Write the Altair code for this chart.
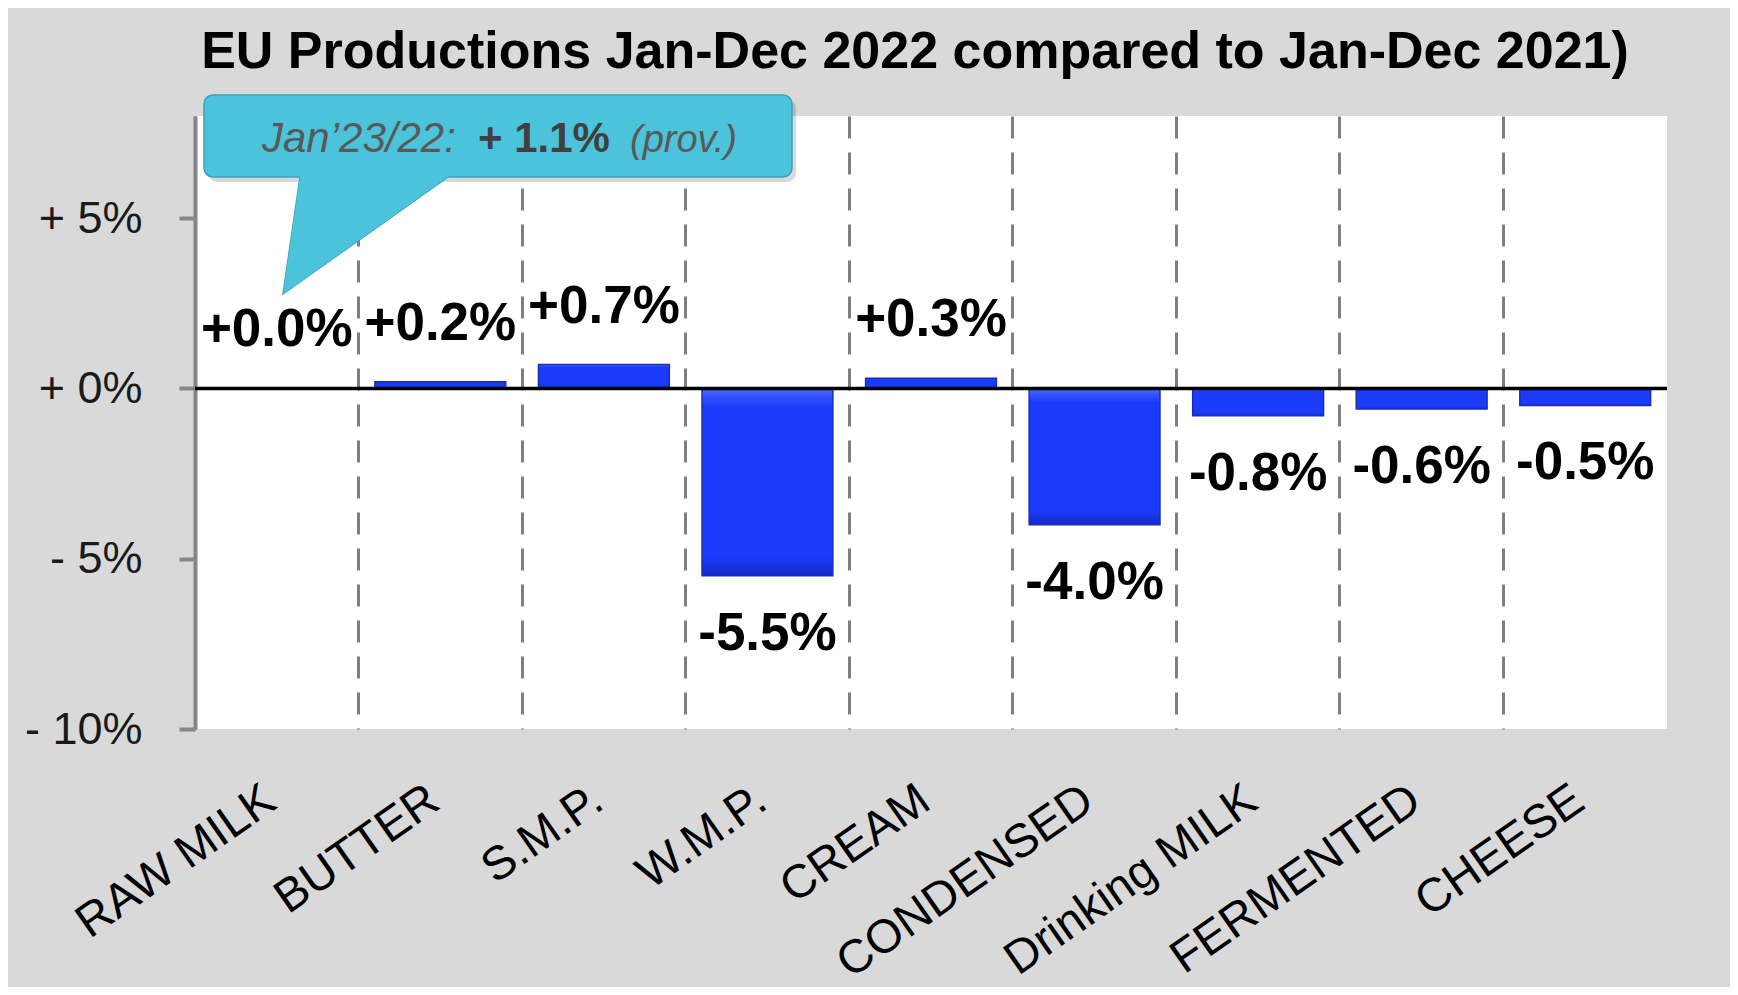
import altair as alt
import pandas as pd

# ---- data ----
categories = ["RAW MILK", "BUTTER", "S.M.P.", "W.M.P.", "CREAM",
              "CONDENSED", "Drinking MILK", "FERMENTED", "CHEESE"]
values = [0.0, 0.2, 0.7, -5.5, 0.3, -4.0, -0.8, -0.6, -0.5]
labels = [f"{v:+.1f}%" for v in values]
y_ticks = [-10, -5, 0, 5]
title_text = ["EU Productions Jan-Dec 2022 compared to Jan-Dec 2021)"]
callout_a = ["Jan\u201923/22:"]
callout_b = ["+ 1.1%"]
callout_c = ["(prov.)"]

FONT = "Liberation Sans"
W, H = 1472, 613

df = pd.DataFrame({"cat": categories, "value": values, "label": labels})
one = pd.DataFrame({"k": [0]})

x_enc = alt.X(
    "cat:N", sort=categories, title=None,
    scale=alt.Scale(paddingInner=0, paddingOuter=0),
    axis=alt.Axis(
        bandPosition=0, labelOffset=-6,
        grid=True, gridDash=[22, 14], gridColor="#7f7f7f", gridWidth=3,
        domain=False, ticks=False, tickSize=0,
        labelAngle=325, labelAlign="right", labelBaseline="middle",
        labelPadding=66, labelFontSize=47, labelColor="#000000", labelFont=FONT,
        labelLimit=0, labelOverlap=False,
    ),
)
y_enc = alt.Y(
    "value:Q", title=None,
    scale=alt.Scale(domain=[-10, 8], nice=False),
    axis=alt.Axis(
        values=y_ticks,
        labelExpr="datum.value >= 0 ? '+ ' + datum.value + '%' : '- ' + abs(datum.value) + '%'",
        domainColor="#868686", domainWidth=4,
        tickColor="#868686", tickWidth=4, tickSize=16,
        labelPadding=37, labelFontSize=45, labelColor="#1a1a1a", labelFont=FONT,
        grid=False,
    ),
)

bar_fill = alt.LinearGradient(
    gradient="linear", x1=0, x2=0, y1=0, y2=1,
    stops=[
        alt.GradientStop(offset=0, color="#4a68ff"),
        alt.GradientStop(offset=0.1, color="#1b3bfb"),
        alt.GradientStop(offset=0.9, color="#1b3bfb"),
        alt.GradientStop(offset=1, color="#1329c4"),
    ],
)

bars = alt.Chart(df).mark_bar(
    width=alt.RelativeBandSize(0.8), color=bar_fill,
    stroke="#1a2eb5", strokeWidth=1.5,
).encode(x=x_enc, y=y_enc, y2=alt.datum(0))

zero_rule = alt.Chart(one).mark_rule(color="#000000", strokeWidth=3.5).encode(
    y=alt.datum(0)
)

pos_labels = alt.Chart(df).transform_filter("datum.value >= 0").mark_text(
    font=FONT, fontSize=53, fontWeight="bold", color="#000000",
    baseline="alphabetic", dy=-42,
).encode(x=alt.X("cat:N", sort=categories), y="value:Q", text="label:N")

neg_labels = alt.Chart(df).transform_filter("datum.value < 0").mark_text(
    font=FONT, fontSize=53, fontWeight="bold", color="#000000",
    baseline="top", dy=32,
).encode(x=alt.X("cat:N", sort=categories), y="value:Q", text="label:N")

# ---- callout (annotation) ----
TEAL = "#4bc3da"
EDGE = "#3aa3b9"
shadow = alt.Chart(one).mark_rect(cornerRadius=9, color="#000000", opacity=0.15).encode(
    x=alt.value(13), x2=alt.value(601), y=alt.value(-17), y2=alt.value(66)
)
tri = alt.Chart(one).mark_point(
    shape="M -0.794 -0.709 L 1 -0.709 L -1 0.709 Z", size=165 * 165,
    filled=True, fill=TEAL, stroke=EDGE, strokeWidth=1.5, opacity=1,
).encode(x=alt.value(170.5), y=alt.value(119.5))
rect = alt.Chart(one).mark_rect(
    cornerRadius=9, fill=TEAL, stroke=EDGE, strokeWidth=1.5
).encode(x=alt.value(9), x2=alt.value(597), y=alt.value(-21), y2=alt.value(61))
tri_cover = alt.Chart(one).mark_point(
    shape="M -0.787 -0.76 L 1.072 -0.76 L -1 0.709 Z", size=165 * 165,
    filled=True, fill=TEAL, strokeWidth=0, opacity=1,
).encode(x=alt.value(170.5), y=alt.value(119.5))

t1 = alt.Chart(pd.DataFrame({"t": callout_a})).mark_text(
    font=FONT, fontSize=42, fontStyle="italic", color="#595959",
    align="left", baseline="alphabetic",
).encode(x=alt.value(67), y=alt.value(36), text="t:N")
t2 = alt.Chart(pd.DataFrame({"t": callout_b})).mark_text(
    font=FONT, fontSize=42, fontWeight="bold", color="#404040",
    align="left", baseline="alphabetic",
).encode(x=alt.value(283), y=alt.value(36), text="t:N")
t3 = alt.Chart(pd.DataFrame({"t": callout_c})).mark_text(
    font=FONT, fontSize=38, fontStyle="italic", color="#595959",
    align="left", baseline="alphabetic",
).encode(x=alt.value(435), y=alt.value(36), text="t:N")

title = alt.Chart(pd.DataFrame({"t": title_text})).mark_text(
    font=FONT, fontSize=52, fontWeight="bold", color="#000000",
    align="center", baseline="alphabetic",
).encode(x=alt.value(720), y=alt.value(-48), text="t:N")

chart = alt.layer(
    bars, zero_rule, pos_labels, neg_labels,
    shadow, tri, rect, tri_cover, t1, t2, t3, title,
).properties(
    width=W, height=H,
    autosize=alt.AutoSizeParams(type="none"),
    padding={"left": 187, "top": 108, "right": 63, "bottom": 258},
    background="#d9d9d9",
).configure_view(fill="white", strokeWidth=0)

chart.save("out.html", embed_options={"renderer": "svg", "actions": False})
